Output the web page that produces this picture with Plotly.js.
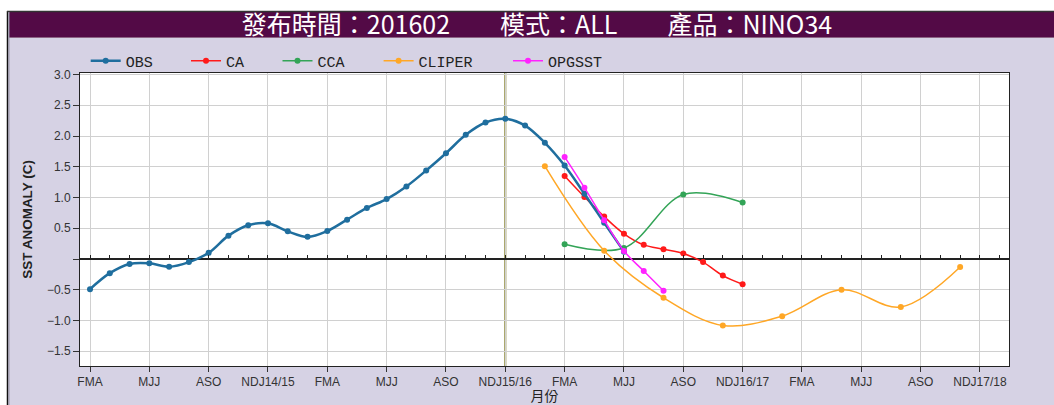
<!DOCTYPE html>
<html>
<head>
<meta charset="utf-8">
<script src="https://cdn.plot.ly/plotly-3.0.1.min.js"></script>
<style>html,body{margin:0;padding:0;background:#fff;}#chart{width:1054px;height:405px;}</style>
</head>
<body>
<div id="chart"></div>
<script>
// ---- season axis labels (3-month running seasons, from FMA 2014) ----
const seasonNames = ['FMA','MAM','AMJ','MJJ','JJA','JAS','ASO','SON','OND','NDJ','DJF','JFM'];
const seasonKeys = [];
for (let i = 0; i < 48; i++) {
  const yr = 14 + Math.floor((i + 1) / 12);
  const s = seasonNames[i % 12];
  seasonKeys.push(s === 'NDJ' ? s + yr + '/' + (yr + 1) : s + yr);
}
const tickKeys = ['FMA14','MJJ14','ASO14','NDJ14/15','FMA15','MJJ15','ASO15','NDJ15/16',
                  'FMA16','MJJ16','ASO16','NDJ16/17','FMA17','MJJ17','ASO17','NDJ17/18'];
const tickLabels = ['FMA','MJJ','ASO','NDJ14/15','FMA','MJJ','ASO','NDJ15/16',
                    'FMA','MJJ','ASO','NDJ16/17','FMA','MJJ','ASO','NDJ17/18'];
const releaseSeason = 'NDJ15/16';

// ---- series ----
const obsStart = 'FMA14';
const obsValues = [-0.49,-0.23,-0.08,-0.07,-0.125,-0.05,0.10,0.38,0.55,0.58,0.45,0.36,0.455,
                   0.64,0.83,0.975,1.18,1.44,1.72,2.02,2.22,2.28,2.17,1.89,1.52,1.06,0.59,0.12];
const caStart = 'FMA16';
const caValues = [1.35,1.01,0.69,0.41,0.23,0.16,0.09,-0.05,-0.27,-0.41];
const ccaSeasons = ['FMA16','MJJ16','ASO16','NDJ16/17'];
const ccaValues = [0.24,0.18,1.05,0.92];
const cliperSeasons = ['JFM16','AMJ16','JAS16','OND16','JFM17','AMJ17','JAS17','OND17'];
const cliperValues = [1.51,0.135,-0.63,-1.08,-0.93,-0.50,-0.78,-0.13];
const opgStart = 'FMA16';
const opgValues = [1.66,1.16,0.63,0.13,-0.195,-0.515];

const yTickVals = [-1.5,-1.0,-0.5,0,0.5,1.0,1.5,2.0,2.5,3.0];
const yTickText = ['\u22121.5','\u22121.0','\u22120.5','','0.5','1.0','1.5','2.0','2.5','3.0'];

// ---- helpers ----
const idx = k => seasonKeys.indexOf(k);
const run = (start, vals) => vals.map((_, i) => idx(start) + i);

const W = 1054, H = 405;
const M = {l: 80, r: 45, t: 73, b: 39};
const PW = W - M.l - M.r, PH = H - M.t - M.b;
const px = x => (x - M.l) / PW;
const py = y => (H - M.b - y) / PH;

const yRange = [-1.74, 3.025];
const xRange = [-0.506, 46.47];

const legendFont = {family: 'Liberation Mono, DejaVu Sans Mono, monospace', size: 15, color: '#222'};
function mkLegend(textStartPx) {
  return {x: px(textStartPx - 40), y: py(61), xanchor: 'left', yanchor: 'middle',
          orientation: 'h', bgcolor: 'rgba(0,0,0,0)', borderwidth: 0, font: legendFont};
}

function tr(name, x, y, color, width, legend) {
  return {type: 'scatter', mode: 'lines+markers', name: name, x: x, y: y,
          line: {color: color, width: width, shape: 'spline', smoothing: 1},
          marker: {color: color, size: 6}, legend: legend, hoverinfo: 'x+y'};
}

const obsTrace = tr('OBS', run(obsStart, obsValues), obsValues, '#1f6e9e', 2.5, 'legend');
const data = [
  {type: 'scatter', x: [], y: [], xaxis: 'x2', showlegend: false, hoverinfo: 'skip'},
  tr('CA', run(caStart, caValues), caValues, '#ff1a1a', 1.5, 'legend2'),
  tr('CCA', ccaSeasons.map(idx), ccaValues, '#33a457', 1.5, 'legend3'),
  tr('CLIPER', cliperSeasons.map(idx), cliperValues, '#ffa726', 1.5, 'legend4'),
  obsTrace,
  tr('OPGSST', run(opgStart, opgValues), opgValues, '#ff22ff', 1.5, 'legend5')
];

const tickFont = {family: 'Liberation Sans, Arial, sans-serif', size: 12, color: '#333'};

const layout = {
  width: W, height: H,
  margin: M,
  paper_bgcolor: '#d6d2e4',
  plot_bgcolor: '#ffffff',
  showlegend: true,
  title: {
    text: '發布時間：201602\u3000\u3000模式：ALL\u3000\u3000產品：NINO34',
    font: {family: 'Noto Sans CJK TC, sans-serif', size: 25, color: '#ffffff'},
    xref: 'container', yref: 'container', x: 537 / W, y: 1 - 25 / H,
    xanchor: 'center', yanchor: 'middle'
  },
  xaxis: {
    range: xRange, tickvals: tickKeys.map(idx), ticktext: tickLabels,
    tickfont: tickFont, ticks: 'outside', ticklen: 5, tickcolor: '#333',
    showgrid: true, gridcolor: '#d0d0d0', gridwidth: 1,
    showline: true, linecolor: '#222', linewidth: 1, mirror: true, zeroline: false,
    title: {text: '月份', font: {family: 'Noto Sans CJK TC, sans-serif', size: 14, color: '#222'}, standoff: 5}
  },
  xaxis2: {
    overlaying: 'x', anchor: 'free',
    position: (0 - yRange[0]) / (yRange[1] - yRange[0]),
    range: xRange, tick0: 0, dtick: 1, ticks: 'inside', ticklen: 4, tickcolor: '#222',
    showticklabels: false, showgrid: false, showline: false, zeroline: false
  },
  yaxis: {
    range: yRange, tickvals: yTickVals, ticktext: yTickText,
    tickfont: tickFont, ticks: 'outside', ticklen: 6, tickcolor: '#333',
    showgrid: true, gridcolor: '#d0d0d0', gridwidth: 1,
    showline: true, linecolor: '#222', linewidth: 1, mirror: true,
    zeroline: true, zerolinecolor: '#222', zerolinewidth: 1.5,
    title: {text: 'SST ANOMALY (C)', font: {family: 'Liberation Sans, Arial, sans-serif', size: 13.5, color: '#222', weight: 'bold'}, standoff: 11}
  },
  legend: mkLegend(125.7),
  legend2: mkLegend(226),
  legend3: mkLegend(317.5),
  legend4: mkLegend(418.6),
  legend5: mkLegend(548),
  shapes: [
    // white outer strip
    {type: 'rect', xref: 'paper', yref: 'paper', x0: px(0), x1: px(W), y0: py(11), y1: py(0), fillcolor: '#ffffff', line: {width: 0}, layer: 'above'},
    {type: 'rect', xref: 'paper', yref: 'paper', x0: px(0), x1: px(7), y0: py(H), y1: py(0), fillcolor: '#ffffff', line: {width: 0}, layer: 'above'},
    // title bar
    {type: 'rect', xref: 'paper', yref: 'paper', x0: px(9), x1: px(W), y0: py(37), y1: py(12), fillcolor: '#530a46', line: {width: 0}, layer: 'above'},
    {type: 'line', xref: 'paper', yref: 'paper', x0: px(9), x1: px(W), y0: py(37.5), y1: py(37.5), line: {color: '#8c6484', width: 1}, layer: 'above'},
    // frame lines
    {type: 'line', xref: 'paper', yref: 'paper', x0: px(7.5), x1: px(7.5), y0: py(11), y1: py(H), line: {color: '#111', width: 1.5}, layer: 'above'},
    {type: 'line', xref: 'paper', yref: 'paper', x0: px(7), x1: px(W), y0: py(11.5), y1: py(11.5), line: {color: '#333', width: 1.5}, layer: 'above'},
    {type: 'line', xref: 'paper', yref: 'paper', x0: px(9), x1: px(9), y0: py(12), y1: py(H), line: {color: '#9a96a8', width: 1}, layer: 'above'},
    // release-season marker
    {type: 'line', xref: 'x', yref: 'paper', x0: idx(releaseSeason), x1: idx(releaseSeason), y0: 0, y1: 1,
     line: {color: '#86842f', width: 2}, layer: 'between'}
  ]
};

Plotly.newPlot('chart', data, layout, {displayModeBar: false, staticPlot: true});
</script>
</body>
</html>
